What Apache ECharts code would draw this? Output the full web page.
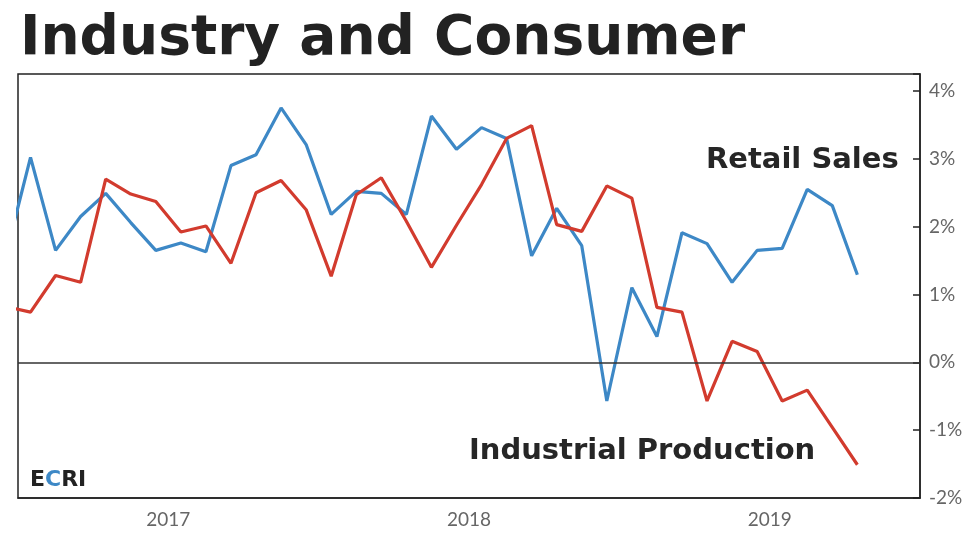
<!DOCTYPE html>
<html>
<head>
<meta charset="utf-8">
<title>Industry and Consumer</title>
<script src="https://cdn.jsdelivr.net/npm/echarts@6/dist/echarts.min.js"></script>
<style>
    html, body {margin: 0; padding: 0; background: #fff;}
    #main {width: 974px; height: 543px;}
</style>
</head>
<body>
<div id="main"></div>
<script>
    // monthly, first entry (Dec 2016) sits half outside the plot and is clipped
    var months = [
        '2016-12',
        '2017-01', '2017-02', '2017-03', '2017-04', '2017-05', '2017-06',
        '2017-07', '2017-08', '2017-09', '2017-10', '2017-11', '2017-12',
        '2018-01', '2018-02', '2018-03', '2018-04', '2018-05', '2018-06',
        '2018-07', '2018-08', '2018-09', '2018-10', '2018-11', '2018-12',
        '2019-01', '2019-02', '2019-03', '2019-04', '2019-05', '2019-06',
        '2019-07', '2019-08', '2019-09', '2019-10'
    ];
    var retailSales = [
        1.56,
        3.02, 1.65, 2.15, 2.49, 2.06, 1.65, 1.76, 1.63, 2.90, 3.06, 3.75, 3.21,
        2.18, 2.52, 2.49, 2.18, 3.63, 3.14, 3.46, 3.30, 1.57, 2.27, 1.72, -0.57,
        1.10, 0.38, 1.91, 1.75, 1.18, 1.65, 1.68, 2.55, 2.31, 1.29
    ];
    var industrialProduction = [
        0.82,
        0.74, 1.28, 1.18, 2.70, 2.48, 2.37, 1.92, 2.01, 1.46, 2.50, 2.68, 2.25,
        1.27, 2.47, 2.72, 2.08, 1.40, 2.02, 2.62, 3.30, 3.49, 2.03, 1.93, 2.60,
        2.42, 0.81, 0.74, -0.57, 0.31, 0.16, -0.57, -0.41, -0.96, -1.51
    ];
    var years = ['2017', '2018', '2019'];

    // x in months from Jan 2017, points at mid-month
    function toPoints(values) {
        return values.map(function (v, i) {
            return [i - 0.5, v];
        });
    }

    var chart = echarts.init(document.getElementById('main'));
    chart.setOption({
        animation: false,
        grid: {left: 18, right: 54, top: 74, bottom: 45, show: true, borderColor: '#222', borderWidth: 1.5},
        xAxis: [
            {type: 'value', min: 0, max: 36, show: false},
            {
                type: 'category', data: years, boundaryGap: true, position: 'bottom',
                axisLine: {onZero: false, lineStyle: {color: '#222', width: 1.5}},
                axisTick: {inside: true, length: 8, lineStyle: {color: '#222', width: 1.5}},
                axisLabel: {color: '#666', fontFamily: 'Lato', fontSize: 19, margin: 12}
            }
        ],
        yAxis: {
            type: 'value', position: 'right', min: -2, max: 4.25, interval: 1,
            splitLine: {show: false},
            axisLine: {show: true, onZero: false, lineStyle: {color: '#222', width: 1.5}},
            axisTick: {show: true, inside: true, length: 7, lineStyle: {color: '#222', width: 1.5}},
            axisLabel: {
                color: '#666', fontFamily: 'Lato', fontSize: 19, margin: 9,
                formatter: function (v) {
                    return Math.abs(v - Math.round(v)) < 1e-6 ? v + '%' : '';
                }
            }
        },
        series: [
            {
                name: 'Retail Sales', type: 'line', xAxisIndex: 0,
                data: toPoints(retailSales), clip: true,
                showSymbol: false, lineStyle: {color: '#3d88c6', width: 3.2},
                markLine: {
                    silent: true, symbol: 'none', label: {show: false},
                    lineStyle: {color: '#333', width: 1.5, type: 'solid'},
                    data: [{yAxis: 0}]
                }
            },
            {
                name: 'Industrial Production', type: 'line', xAxisIndex: 0,
                data: toPoints(industrialProduction), clip: true,
                showSymbol: false, lineStyle: {color: '#d23b2e', width: 3.2}
            }
        ],
        graphic: [
            {
                type: 'text', left: 20, top: 12,
                style: {
                    text: 'Industry and Consumer', fill: '#222', fontFamily: 'DejaVu Sans',
                    fontWeight: 'bold', fontSize: 55, letterSpacing: 2.5
                }
            },
            {
                type: 'text', left: 706, top: 146,
                style: {text: 'Retail Sales', fill: '#262626', fontFamily: 'DejaVu Sans', fontWeight: 'bold', fontSize: 29}
            },
            {
                type: 'text', left: 469, top: 437,
                style: {text: 'Industrial Production', fill: '#262626', fontFamily: 'DejaVu Sans', fontWeight: 'bold', fontSize: 29, letterSpacing: 0.3}
            },
            {
                type: 'text', left: 30, top: 469,
                style: {
                    text: '{d|E}{b|C}{d|RI}',
                    rich: {
                        d: {fill: '#222', fontFamily: 'DejaVu Sans', fontWeight: 'bold', fontSize: 22},
                        b: {fill: '#3d88c6', fontFamily: 'DejaVu Sans', fontWeight: 'bold', fontSize: 22}
                    }
                }
            }
        ]
    });
</script>
</body>
</html>
